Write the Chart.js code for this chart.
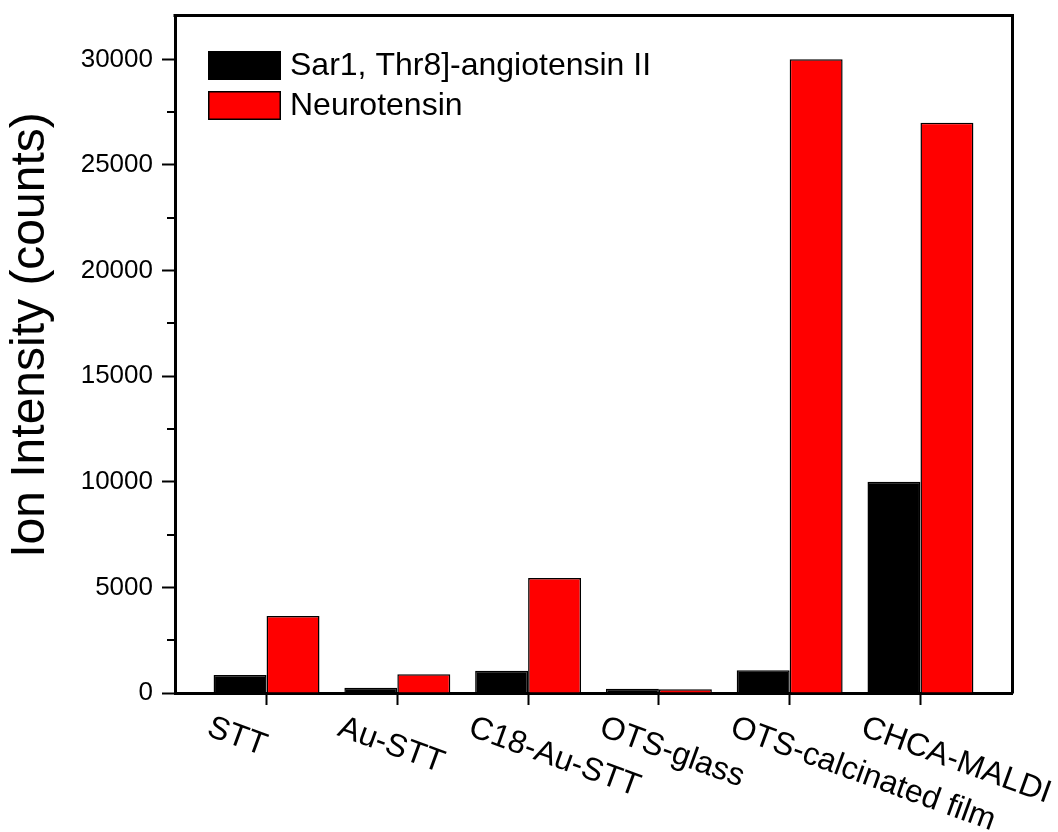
<!DOCTYPE html>
<html>
<head>
<meta charset="utf-8">
<script src="https://cdn.jsdelivr.net/npm/chart.js@4.4.1/dist/chart.umd.min.js"></script>
<style>
  html, body { margin: 0; padding: 0; background: #ffffff; }
  #wrap { width: 1058px; height: 832px; }
</style>
</head>
<body>
<div id="wrap"><canvas id="chart" width="1058" height="832"></canvas></div>
<script>
// Substrates compared
const categories = ['STT', 'Au-STT', 'C18-Au-STT', 'OTS-glass', 'OTS-calcinated film', 'CHCA-MALDI'];
// Ion intensity (counts) per peptide
const sarAngiotensin = [850, 250, 1050, 200, 1080, 10000];
const neurotensin = [3640, 885, 5440, 180, 30000, 27000];
// Series names
const seriesNames = ['Sar1, Thr8]-angiotensin II', 'Neurotensin'];
// Labelled y ticks and unlabelled minor ticks
const yMajorTicks = [0, 5000, 10000, 15000, 20000, 25000, 30000];
const yMinorTicks = [2500, 7500, 12500, 17500, 22500, 27500];

const FONT = '"Liberation Sans", Arial, sans-serif';

const toPoints = vals => vals.map((v, i) => ({ x: i + 1, y: v }));

// Frame (top + right), minor y ticks, rotated x labels, y title and legend
const decorations = {
  id: 'decorations',
  afterDraw(chart) {
    const { ctx, chartArea: a, scales } = chart;
    const xs = scales.x, ys = scales.y;
    ctx.save();

    // top and right edges of the frame
    const top = Math.round(a.top) + 0.5;
    const right = Math.round(a.right) + 0.5;
    ctx.strokeStyle = '#000';
    ctx.lineWidth = 3;
    ctx.beginPath();
    ctx.moveTo(a.left - 1.5, top);
    ctx.lineTo(right, top);
    ctx.lineTo(right, a.bottom + 0.5);
    ctx.stroke();

    // minor ticks on the y axis
    ctx.lineWidth = 2;
    yMinorTicks.forEach(v => {
      const y = Math.round(ys.getPixelForValue(v));
      ctx.beginPath();
      ctx.moveTo(a.left - 8, y);
      ctx.lineTo(a.left, y);
      ctx.stroke();
    });

    // category labels, slanted downward
    ctx.fillStyle = '#000';
    ctx.font = '32px ' + FONT;
    ctx.textAlign = 'left';
    ctx.textBaseline = 'alphabetic';
    categories.forEach((c, i) => {
      const x = xs.getPixelForValue(i + 1);
      ctx.save();
      ctx.translate(x - 61, 735);
      ctx.rotate(20 * Math.PI / 180);
      ctx.fillText(c, 0, 0);
      ctx.restore();
    });

    // y axis title
    ctx.save();
    ctx.font = '48px ' + FONT;
    ctx.textAlign = 'center';
    ctx.textBaseline = 'middle';
    ctx.translate(31, 335);
    ctx.rotate(-Math.PI / 2);
    ctx.fillText('Ion Intensity (counts)', 0, 0);
    ctx.restore();

    // legend inside the plot
    ctx.font = '32px ' + FONT;
    ctx.textBaseline = 'middle';
    chart.data.datasets.forEach((ds, i) => {
      const y0 = 51 + i * 40;
      ctx.fillStyle = ds.backgroundColor;
      ctx.fillRect(208, y0, 73, 29);
      ctx.strokeStyle = '#000';
      ctx.lineWidth = 1.5;
      ctx.strokeRect(208.75, y0 + 0.75, 71.5, 27.5);
      ctx.fillStyle = '#000';
      ctx.fillText(ds.label, 290, y0 + 15);
    });

    ctx.restore();
  }
};

new Chart(document.getElementById('chart'), {
  type: 'bar',
  data: {
    datasets: [
      {
        label: seriesNames[0],
        data: toPoints(sarAngiotensin),
        backgroundColor: '#000000',
        borderColor: '#000000',
        borderWidth: 1.5
      },
      {
        label: seriesNames[1],
        data: toPoints(neurotensin),
        backgroundColor: '#ff0000',
        borderColor: '#000000',
        borderWidth: 1.5
      }
    ]
  },
  options: {
    responsive: false,
    animation: false,
    events: [],
    layout: { padding: { top: 15, right: 46, left: 0, bottom: 0 } },
    datasets: { bar: { categoryPercentage: 0.81, barPercentage: 1.0 } },
    plugins: { legend: { display: false }, tooltip: { enabled: false } },
    scales: {
      x: {
        type: 'linear',
        min: 0.3,
        max: 6.7,
        offset: false,
        afterBuildTicks: s => { s.ticks = categories.map((_, i) => ({ value: i + 1 })); },
        afterFit: s => { s.height = 139; s.paddingLeft = 0; s.paddingRight = 0; },
        ticks: { display: false },
        grid: { display: true, offset: false, drawOnChartArea: false, drawTicks: true, tickLength: 12, tickWidth: 2, tickColor: '#000', color: '#000' },
        border: { display: true, color: '#000', width: 3 }
      },
      y: {
        min: 0,
        max: 32100,
        afterBuildTicks: s => { s.ticks = yMajorTicks.map(v => ({ value: v })); },
        afterFit: s => { s.width = 175; s.paddingTop = 0; s.paddingBottom = 0; },
        ticks: {
          color: '#000',
          padding: 9,
          font: { family: FONT, size: 26 },
          callback: v => String(v)
        },
        grid: { display: true, drawOnChartArea: false, drawTicks: true, tickLength: 13, tickWidth: 2, tickColor: '#000', color: '#000' },
        border: { display: true, color: '#000', width: 3 }
      }
    }
  },
  plugins: [decorations]
});
</script>
</body>
</html>
